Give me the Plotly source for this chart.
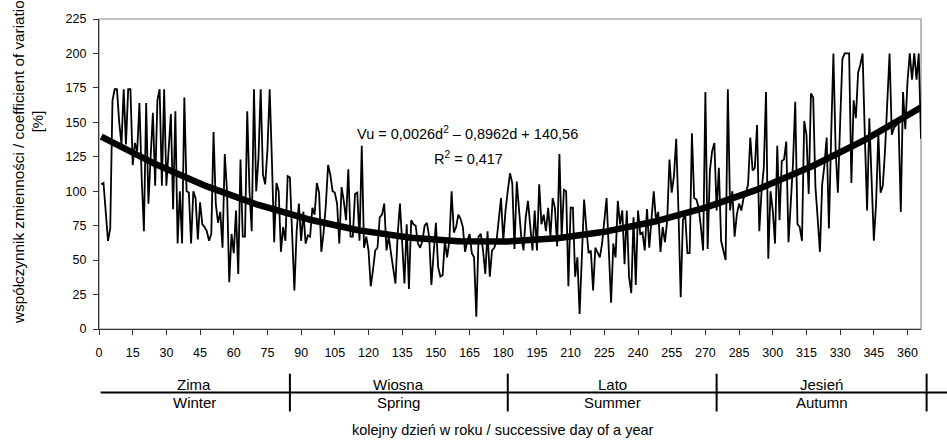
import plotly.graph_objects as go

# Daily coefficient of variation [%], day 1..366
cv_values = [
    105, 106, 85, 64, 73, 166, 174, 174, 150, 134,
    174, 134, 174, 174, 119, 135, 129, 164, 110, 71,
    164, 91, 125, 157, 104, 166, 174, 104, 174, 104,
    130, 156, 87, 158, 62, 100, 62, 168, 100, 99,
    62, 100, 95, 65, 92, 76, 74, 71, 64, 69,
    143, 91, 77, 85, 59, 127, 100, 34, 69, 55,
    86, 40, 123, 67, 67, 158, 100, 71, 174, 100,
    124, 174, 112, 105, 130, 174, 122, 63, 106, 100,
    56, 74, 64, 111, 110, 67, 28, 71, 91, 64,
    85, 62, 68, 67, 88, 83, 106, 99, 56, 70,
    90, 119, 112, 100, 99, 91, 62, 103, 93, 79,
    116, 67, 67, 98, 99, 64, 133, 59, 67, 57,
    31, 43, 57, 59, 81, 83, 91, 57, 67, 55,
    45, 33, 69, 91, 62, 33, 76, 29, 79, 76,
    75, 62, 59, 64, 75, 77, 67, 32, 55, 77,
    45, 38, 39, 64, 52, 64, 100, 70, 74, 83,
    80, 74, 56, 64, 69, 55, 52, 9, 67, 69,
    57, 40, 71, 38, 57, 59, 64, 79, 95, 64,
    86, 100, 113, 106, 58, 107, 86, 67, 57, 81,
    93, 76, 57, 86, 57, 105, 76, 83, 71, 88,
    67, 95, 88, 60, 127, 67, 101, 100, 31, 88,
    88, 38, 52, 11, 55, 94, 73, 55, 57, 28,
    59, 55, 52, 62, 79, 95, 57, 19, 62, 52,
    93, 76, 86, 47, 86, 38, 26, 81, 32, 86,
    69, 70, 57, 87, 59, 82, 100, 79, 85, 56,
    74, 63, 79, 123, 99, 111, 138, 86, 23, 79,
    83, 55, 55, 142, 95, 94, 88, 74, 57, 172,
    58, 115, 129, 135, 86, 117, 64, 57, 50, 174,
    86, 100, 67, 83, 91, 86, 95, 98, 105, 139,
    115, 117, 148, 71, 100, 117, 172, 51, 100, 86,
    62, 133, 79, 122, 123, 136, 63, 91, 120, 165,
    76, 74, 64, 151, 141, 98, 171, 168, 103, 80,
    56, 105, 119, 139, 73, 140, 200, 129, 99, 150,
    196, 200, 200, 200, 106, 166, 153, 186, 192, 200,
    140, 86, 153, 110, 64, 91, 142, 99, 104, 130,
    165, 200, 141, 146, 148, 151, 85, 172, 145, 180,
    200, 181, 200, 181, 200, 138,
]
days = list(range(1, len(cv_values) + 1))

# Second-order polynomial trend: Vu = a*d^2 + b*d + c
trend_a = 0.0026
trend_b = -0.8962
trend_c = 140.56
r_squared = "0,417"

x_ticks = list(range(0, 361, 15))
y_ticks = list(range(0, 226, 25))
x_max = 366

season_pl = ["Zima", "Wiosna", "Lato", "Jesień"]
season_en = ["Winter", "Spring", "Summer", "Autumn"]
season_edges = [0, 85, 182, 275, 368.5]

FONT = "Liberation Sans, Arial, sans-serif"

trend_vals = [trend_a * d * d + trend_b * d + trend_c for d in days]

fig = go.Figure()
fig.add_trace(go.Scatter(
    x=days, y=cv_values, mode="lines",
    line=dict(color="black", width=1.8),
    hoverinfo="skip", showlegend=False,
))
fig.add_trace(go.Scatter(
    x=days, y=trend_vals, mode="lines",
    line=dict(color="black", width=6.5),
    hoverinfo="skip", showlegend=False,
))

fig.update_xaxes(
    range=[0, x_max], tickvals=x_ticks, ticktext=[str(t) for t in x_ticks],
    ticks="outside", ticklen=5, tickcolor="#333", tickwidth=1,
    showline=True, linecolor="#333", linewidth=1.2,
    showgrid=False, zeroline=False,
    tickfont=dict(family=FONT, size=12.5, color="black"),
    ticklabelstandoff=7,
)
fig.update_yaxes(
    range=[0, 225], tickvals=y_ticks,
    ticks="outside", ticklen=5, tickcolor="#333", tickwidth=1,
    showline=True, linecolor="#333", linewidth=1.2,
    showgrid=False, zeroline=False,
    tickfont=dict(family=FONT, size=12.5, color="black"),
    ticklabelstandoff=4,
)

shapes = [
    # grey frame of the plot area
    dict(type="rect", xref="paper", yref="paper", x0=0, y0=0, x1=1, y1=1,
         line=dict(color="#8c8c8c", width=1.2), layer="below"),
]

# season table under the axis
y_px_bottom, y_px_top = 329, 17
plot_h = y_px_bottom - y_px_top

def py(px):
    return (y_px_bottom - px) / plot_h

def dx(day):
    return day / x_max

shapes.append(dict(type="line", xref="paper", yref="paper",
                   x0=dx(season_edges[0]) + 0.002, x1=1.04, y0=py(393), y1=py(393),
                   line=dict(color="black", width=2)))
for edge in season_edges[1:]:
    shapes.append(dict(type="line", xref="paper", yref="paper",
                       x0=dx(edge), x1=dx(edge), y0=py(374), y1=py(412),
                       line=dict(color="black", width=2)))

annotations = []
for i in range(len(season_pl)):
    mid = dx((season_edges[i] + season_edges[i + 1]) / 2)
    annotations.append(dict(x=mid, y=py(385), xref="paper", yref="paper",
                            text=season_pl[i], showarrow=False,
                            font=dict(family=FONT, size=15, color="black"),
                            xanchor="center", yanchor="middle"))
    annotations.append(dict(x=mid, y=py(403), xref="paper", yref="paper",
                            text=season_en[i], showarrow=False,
                            font=dict(family=FONT, size=15, color="black"),
                            xanchor="center", yanchor="middle"))

annotations.append(dict(
    x=(503 - 99) / 822, y=py(431), xref="paper", yref="paper",
    text="kolejny dzień w roku / successive day of a year", showarrow=False,
    font=dict(family=FONT, size=14.5, color="black"),
    xanchor="center", yanchor="middle"))

annotations.append(dict(
    x=(18 - 99) / 822, y=py(326), xref="paper", yref="paper",
    text="współczynnik zmienności / coefficient of variation", showarrow=False,
    textangle=-90, font=dict(family=FONT, size=15.3, color="black"),
    xanchor="center", yanchor="bottom"))
annotations.append(dict(
    x=(37 - 99) / 822, y=py(120), xref="paper", yref="paper",
    text="[%]", showarrow=False,
    textangle=-90, font=dict(family=FONT, size=15, color="black"),
    xanchor="center", yanchor="middle"))

eq_text = (f"Vu = {str(trend_a).replace('.', ',')}d<sup>2</sup> \u2013 "
           f"{str(-trend_b).replace('.', ',')}d + {str(trend_c).replace('.', ',')}")
annotations.append(dict(
    x=(467 - 99) / 822, y=py(132), xref="paper", yref="paper",
    text=eq_text, showarrow=False,
    font=dict(family=FONT, size=14.5, color="black"),
    xanchor="center", yanchor="middle"))
annotations.append(dict(
    x=(468 - 99) / 822, y=py(157), xref="paper", yref="paper",
    text=f"R<sup>2</sup> = {r_squared}", showarrow=False,
    font=dict(family=FONT, size=14.5, color="black"),
    xanchor="center", yanchor="middle"))

fig.update_layout(
    width=947, height=442,
    margin=dict(l=99, r=26, t=17, b=113),
    paper_bgcolor="white", plot_bgcolor="white",
    shapes=shapes, annotations=annotations,
    showlegend=False,
)

fig.write_html("out.html", config={"displayModeBar": False})
